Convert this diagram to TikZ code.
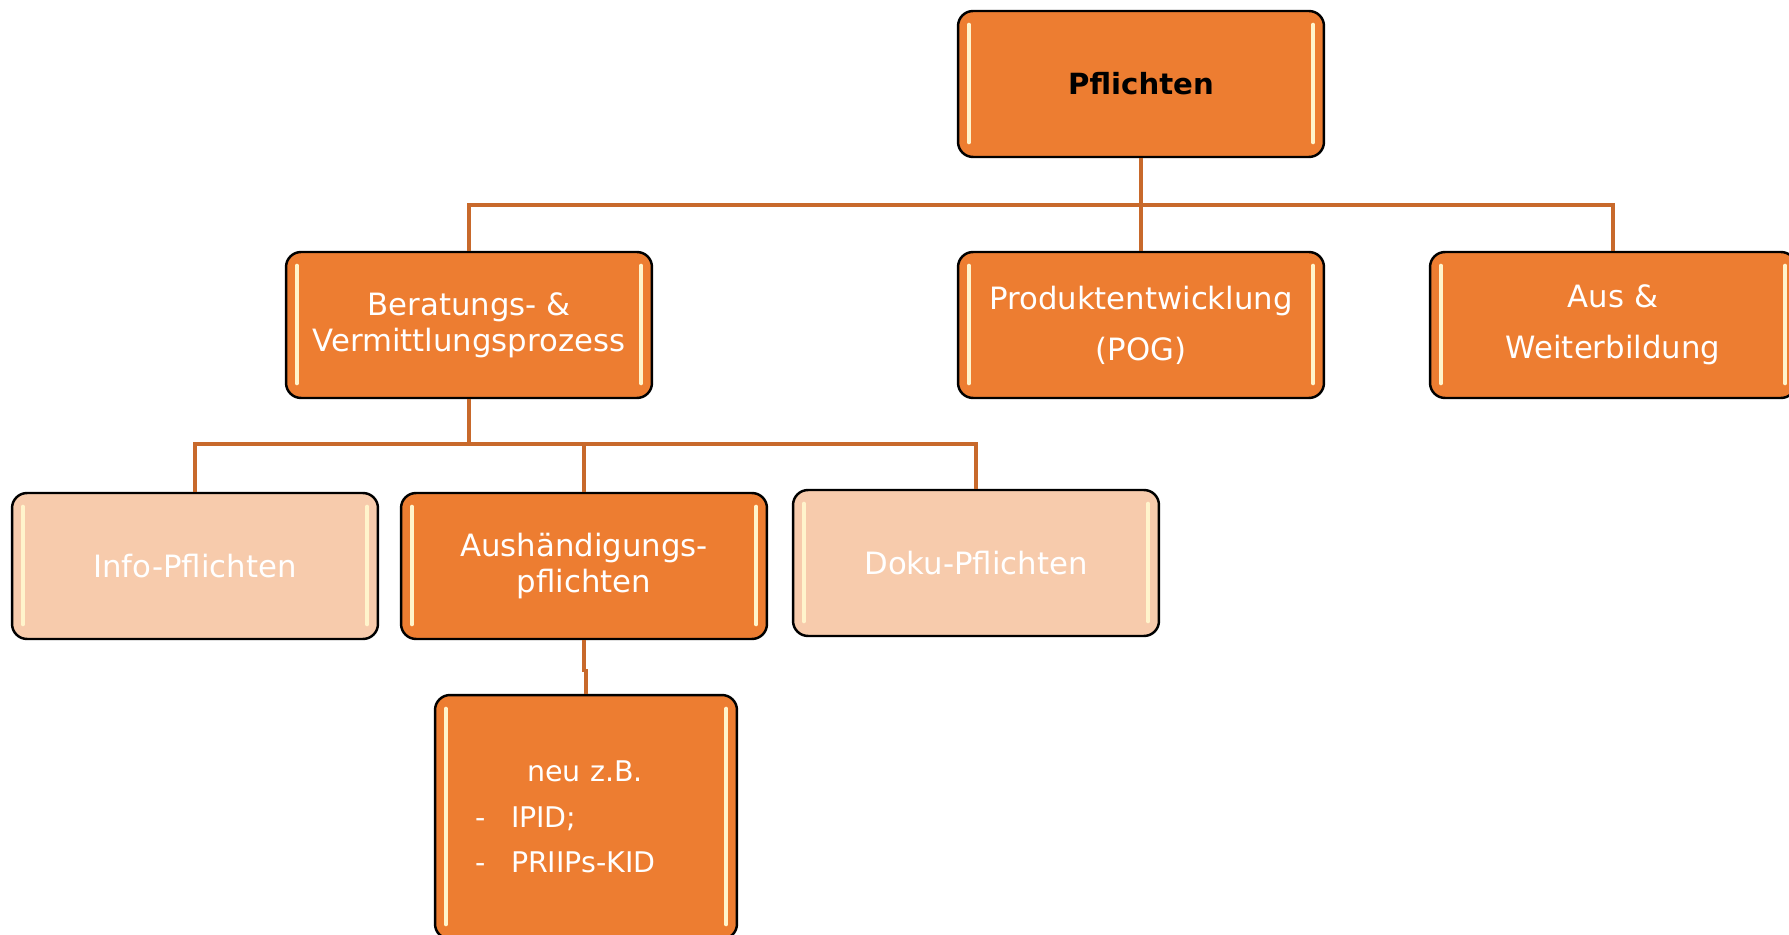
\documentclass[tikz,border=0pt]{standalone}
\usepackage{fontspec}
\setmainfont{DejaVu Sans}
\usepackage{tikz}
\usetikzlibrary{positioning, calc}
\definecolor{boxorange}{HTML}{ED7D31}
\definecolor{boxpeach}{HTML}{F7CBAC}
\definecolor{linkc}{HTML}{C8692B}
\definecolor{glintc}{HTML}{FFF4CC}
\tikzset{style={font=\fontsize{17.5}{20.4}\selectfont}}

\begin{document}
\begin{tikzpicture}[x=0.02cm,y=-0.02cm,
    box/.style={draw=black,line width=1.4pt,rounded corners=0.3cm,fill=boxorange,
                text=white,align=center,minimum width=7.32cm,minimum height=2.92cm,inner sep=0pt},
    pale/.style={box,fill=boxpeach},
    wide/.style={font=\fontsize{17.5}{28.9}\selectfont},
    link/.style={draw=linkc,line width=1.8pt},
    glint/.style={draw=glintc,line width=2.4pt,line cap=round}]
    \useasboundingbox (0,0) rectangle (1789,935);
    % top level
    \node[box,text=black,font=\bfseries\fontsize{16.6}{20.4}\selectfont] (pfl) at (1141,84) {Pflichten};
    % second level
    \node[box] (ber) at (469,325) {Beratungs- \&\\Vermittlungsprozess};
    \node[box,wide] (prod) at (1141,325) {Produktentwicklung\\(POG)};
    \node[box,wide] (aus) at (1613,325) {Aus \&\\Weiterbildung};
    % third level
    \node[pale] (info) at (195,566) {Info-Pflichten};
    \node[box] (aush) at (584,566) {Aushändigungs-\\pflichten};
    \node[pale] (doku) at (976,563) {Doku-Pflichten};
    \node[box,minimum width=6.04cm,minimum height=4.88cm,align=left,inner xsep=0.8cm,
          text width=4.44cm,font=\fontsize{16.2}{26}\selectfont] (neu) at (586,817)
        {\hspace*{1.04cm}neu z.B.\\\makebox[0.72cm][l]{-}IPID;\\\makebox[0.72cm][l]{-}PRIIPs-KID};
    % glossy bars
    \foreach \n in {pfl,ber,prod,aus,info,aush,doku,neu} {
        \draw[glint] ([xshift=0.24cm,yshift=-0.3cm]\n.north west) -- ([xshift=0.24cm,yshift=0.32cm]\n.south west);
        \draw[glint] ([xshift=-0.24cm,yshift=-0.3cm]\n.north east) -- ([xshift=-0.24cm,yshift=0.32cm]\n.south east);
    }
    % connectors
    \coordinate (j1) at (1141,205);
    \coordinate (j2) at (469,444);
    \draw[link] (pfl) -- (j1) -- (prod);
    \draw[link] (ber.north) |- (j1) -| (aus.north);
    \draw[link] (ber) -- (j2) -| (aush.north);
    \draw[link] (info.north) |- (j2) -| (doku.north);
    \draw[link] (aush.south) -- ++(0,30) -| (neu.north);
\end{tikzpicture}
\end{document}
